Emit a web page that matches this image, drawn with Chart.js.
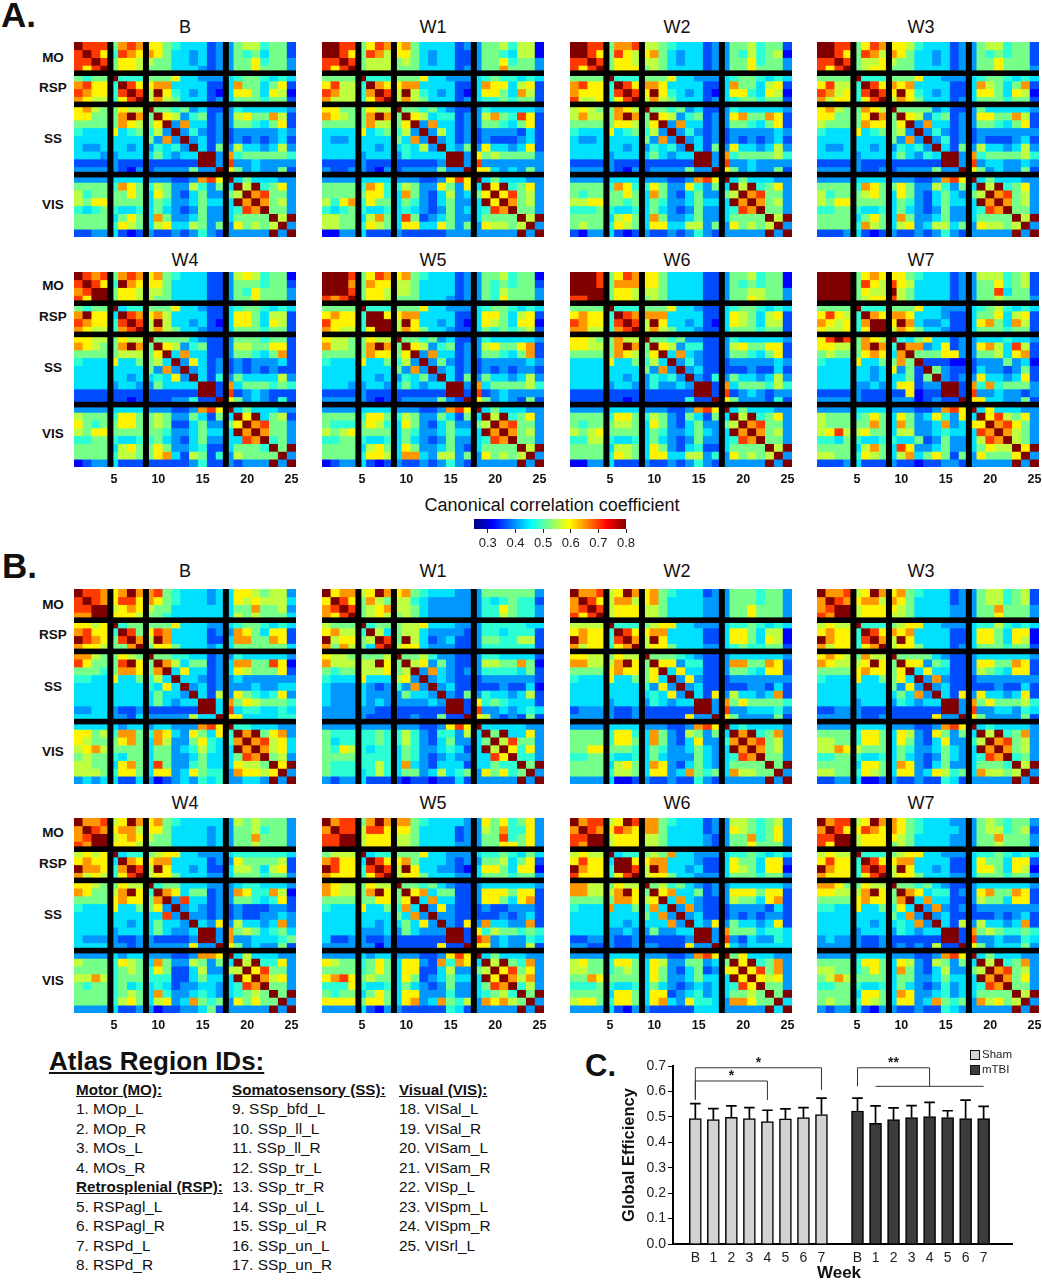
<!DOCTYPE html>
<html>
<head>
<meta charset="utf-8">
<script src="https://cdn.jsdelivr.net/npm/chart.js@4"></script>
<style>
body { margin: 0; background: #fff; }
#page { position: relative; width: 1042px; height: 1280px; overflow: hidden; font-family: "Liberation Sans", Arial, sans-serif; color: #111; }
#page canvas { position: absolute; }
.t { position: absolute; white-space: nowrap; line-height: 1; }
.c { transform: translate(-50%, -50%); }
</style>
</head>
<body>
<div id="page"></div>
<script>
var levelSymbols = '0123456789x';
var levelValues = [0.32, 0.36, 0.40, 0.44, 0.48, 0.52, 0.56, 0.60, 0.65, 0.70, 0.80];

// upper triangle of each matrix, row by row, blocks are MO RSP SS VIS
var A_B = ["x999 5898 775433312 25664551","x97 4987 875332312 25453551","x9 5776 655332312 25574552","x 5776 555333212 25575552","x444 555733222 34554343","x97 788333311 38553571","x9 6x7432310 37753760","x 686533312 35554551","x55452311 24333332","x7624512 26755861","x283312 25543571","x24212 12222232","x2312 12121231","x315 26332362","xx2 84555554","x2 92232222","x 75232251","x3533322","x6x4572","x89552","x8562","x552","x6x","x2","x"];
var A_W1 = ["xx99 5798 785333312 25564660","x97 5986 775323311 25543660","x9 5666 565323311 25574552","x 5666 555333312 25585552","x444 555733222 34544343","x87 788333311 38773671","x9 6x6432310 37753861","x 686533312 34454551","x55453211 24333332","x7634412 26854971","x283312 25543571","x26312 12222131","x2312 12111231","x325 27332371","xx2 75655552","x2 92222222","x 77323252","x3533322","x7x4572","x79562","x8562","x552","x6x","x2","x"];
var A_W2 = ["xx99 5889 665433312 25564551","x97 5976 785323312 25464560","x9 5776 665323312 25574552","x 5777 565333312 25575552","x444 555733222 34554343","x97 887333311 38553671","x9 7x7432310 37743760","x 686533312 34554551","x55452311 24333332","x7624512 27855871","x283312 25543571","x24212 12222232","x2312 12121231","x315 27332362","xx2 84555564","x2 92232222","x 75232251","x3533322","x6x4572","x89552","x8562","x552","x6x","x2","x"];
var A_W3 = ["xx99 5798 776433312 25664551","x97 5986 875332312 25454551","x9 5667 655332312 25575551","x 5677 555333312 25575552","x444 555733222 34554343","x97 878333311 38653581","x9 7x7432311 37753760","x 687533312 35554551","x55552311 25333332","x7624512 27755861","x283312 25543571","x24212 12222222","x2412 12111231","x315 26332362","xx2 84555564","x2 92332232","x 75232251","x3533322","x6x4572","x89562","x8562","x552","x6x","x2","x"];
var A_W4 = ["x989 5898 785433311 26764550","x97 4x87 775333311 25554551","xx 5776 665333311 25475552","x 5776 655333311 25575552","x344 555733211 34554343","x98 786333311 37753661","x9 6x6332310 37753761","x 686533211 35554551","x55553211 25554551","x7624511 26655771","x383311 25543581","x27312 12122231","x2312 12121211","x314 25333362","xx1 83555454","x1 91232111","x 75232141","x3533322","x7x3561","x89552","x8552","x452","x5x","x2","x"];
var A_W5 = ["xxx9 5798 785433312 25564550","xx8 5877 665333312 25454551","x9 5776 665333312 25465552","x 5776 555333212 25475552","x444 555733222 34554343","xx7 788333311 37753671","xx 6x7332310 37653770","x 687533211 35454561","x55452311 24333332","x7624512 26755781","x283312 25543581","x25212 12222232","x2312 12121221","x315 25332362","xx2 83555564","x1 91232222","x 75232151","x3533322","x6x4572","x89552","x8562","x552","x6x","x2","x"];
var A_W6 = ["xxx9 5798 775333311 25564550","xx9 5888 775333311 25454550","xx 5776 665333311 25566552","x 5776 565333311 25576552","x444 555733211 34554343","x98 888333311 37653671","x9 6x7332310 37653661","x 686533211 35554551","x55452211 24333332","x7624411 26755771","x383211 25543571","x24211 12222232","x2311 11121131","x214 25332362","xx1 83555464","x1 91232122","x 75222141","x3533322","x6x4572","x89552","x8562","x552","x6x","x2","x"];
var A_W7 = ["xxxx 5787 775433312 26664561","xxx 5976 976333312 25574561","xx 5766 x65333312 25593551","x 5677 965333312 25565552","x444 555733222 34564343","x87 887333211 35573671","xx 7x8322311 37853861","x 687533211 35554551","x43573312 23334332","x8823712 27863961","x555772 25563781","x11100 12225230","x5211 13221251","x212 27332371","xx1 84845552","x1 92232212","x 77332251","x3733322","x796572","x89752","x8652","x652","x7x","x2","x"];
var B_B = ["x998 78x8 895433323 37765662","x98 7997 875433323 37676663","xx 6787 655333333 35585562","x 7776 554333333 36565553","x455 555733322 34554343","x95 798333312 28753771","x8 6x8333311 38855871","x 577533323 35555553","x55443312 24333332","x8635512 38855970","x373312 37655571","x33212 23222222","x2312 22232233","x316 27543472","xx3 85765554","x3 93443343","x 77333344","x4433322","x8x5782","x89673","x8673","x562","x7x","x2","x"];
var B_W1 = ["x788 67x8 785433322 25555552","x97 5865 664322222 24345441","x9 5678 665322222 24475442","x 5676 565322222 24465442","x455 566733322 24444433","x63 566322221 24434441","x9 5x6312311 25544661","x 677322211 24444441","x55642211 24433331","x6725211 26655850","x283212 24444351","x23211 12222221","x2311 11121130","x215 24332361","xx1 74543331","x1 92232343","x 76212151","x3333322","x5x3372","x69552","x7472","x442","x5x","x2","x"];
var B_W2 = ["x889 67x8 785433312 25554552","x97 6886 785333322 25554552","x9 6777 665333322 25575552","x 6777 665333322 25575552","x444 567733222 34454343","x97 788333311 37753660","x8 6x7333311 37753760","x 677533322 34544551","x55543211 23333332","x7724411 28855871","x373311 25543771","x27211 12222222","x2311 11122131","x317 26332381","xx2 85755554","x2 92233342","x 75222251","x3433332","x8x4582","x89562","x8562","x552","x5x","x2","x"];
var B_W3 = ["x889 67x8 785433312 25664561","x98 7886 875333312 25664561","xx 6777 765333322 25585552","x 6777 665333322 25575552","x444 567733222 34464343","x97 878333311 37753770","x8 6x7333311 37753760","x 677533312 35554551","x55553211 23333332","x7725411 27755871","x373311 26543771","x28211 12222222","x2311 11121131","x317 27332371","xx2 85755564","x2 92233243","x 75222251","x3433332","x6x4582","x89562","x8562","x452","x6x","x2","x"];
var B_W4 = ["x889 67x8 785433333 26565552","x98 7886 775333323 25564552","xx 6787 655333323 25585552","x 7776 555333323 25565552","x344 567733222 34444443","x87 788333312 27555561","x9 6x7332311 36653671","x 677533322 35554552","x45533322 23443332","x8735512 28744860","x293312 25543471","x23212 12111221","x2212 12112232","x327 26332382","xx2 85653453","x2 82233345","x 75232251","x3633322","x6x4472","x79552","x8672","x552","x5x","x2","x"];
var B_W5 = ["x899 58x8 885433332 27574572","x99 6997 775333312 26584472","xx 6777 665333312 25594572","x 6777 665333322 25577572","x344 555733222 34454353","x97 785333212 25563571","x9 6x7332210 37753770","x 677533322 35554552","x55453211 23333332","x7835511 27775771","x383311 27753781","x27211 12112221","x2211 11121231","x217 28332281","xx1 74655454","x1 98232243","x 77232261","x3533322","x6x5482","x79572","x8682","x462","x5x","x2","x"];
var B_W6 = ["x899 67x9 885433312 26654562","x98 7987 885333312 27654572","xx 6777 665333321 25584572","x 6777 665333321 25575552","x344 565833222 34454343","xx7 788333211 37553771","x9 6x8332311 37653770","x 677533222 35554552","x56453212 23333332","x7833512 27775771","x383211 26553781","x28211 12222131","x2311 12121221","x327 25332371","xx2 85553443","x2 92132243","x 73233333","x5733322","x7x4582","x79582","x7672","x552","x5x","x3","x"];
var B_W7 = ["x899 67x8 875433322 25654552","x97 7987 875433332 25664561","xx 6777 765333322 25585552","x 6777 565333322 25565552","x444 567733222 34454343","x97 788333311 37553771","x9 6x7332311 37753760","x 677533322 35554552","x55453211 23333332","x8734412 27855871","x383311 26553771","x28212 12222222","x2311 11121231","x316 26332381","xx1 85654454","x1 92232243","x 75233352","x3533322","x6x4582","x89562","x8572","x552","x6x","x2","x"];

var regionLabels = ['MO', 'RSP', 'SS', 'VIS'];
var regionEnds = [4, 8, 17];
var regionIds = [];
for (var n = 1; n <= 25; n++) regionIds.push(String(n));

var weeks = ['B', '1', '2', '3', '4', '5', '6', '7'];
var shamEfficiency = [0.493, 0.489, 0.498, 0.493, 0.481, 0.492, 0.497, 0.509];
var shamError = [0.059, 0.043, 0.045, 0.043, 0.045, 0.039, 0.039, 0.065];
var mtbiEfficiency = [0.523, 0.475, 0.489, 0.497, 0.501, 0.497, 0.493, 0.493];
var mtbiError = [0.051, 0.068, 0.046, 0.047, 0.056, 0.027, 0.073, 0.048];
var efficiencyTicks = [0, 0.1, 0.2, 0.3, 0.4, 0.5, 0.6, 0.7];
var colorbarTicks = [0.3, 0.4, 0.5, 0.6, 0.7, 0.8];

var motorList = ['1. MOp_L', '2. MOp_R', '3. MOs_L', '4. MOs_R'];
var rspList = ['5. RSPagl_L', '6. RSPagl_R', '7. RSPd_L', '8. RSPd_R'];
var ssList = ['9. SSp_bfd_L', '10. SSp_ll_L', '11. SSp_ll_R', '12. SSp_tr_L', '13. SSp_tr_R', '14. SSp_ul_L', '15. SSp_ul_R', '16. SSp_un_L', '17. SSp_un_R'];
var visList = ['18. VISal_L', '19. VISal_R', '20. VISam_L', '21. VISam_R', '22. VISp_L', '23. VISpm_L', '24. VISpm_R', '25. VISrl_L'];

var page = document.getElementById('page');
Chart.defaults.font.family = '"Liberation Sans", Arial, sans-serif';
Chart.defaults.animation = false;
Chart.defaults.responsive = false;
Chart.defaults.devicePixelRatio = 1;
Chart.defaults.events = [];
Chart.defaults.plugins.legend.display = false;
Chart.defaults.plugins.tooltip.enabled = false;

function text(str, x, y, size, opts) {
    opts = opts || {};
    var d = document.createElement('div');
    d.className = 't' + (opts.center ? ' c' : '');
    d.textContent = str;
    d.style.left = x + 'px';
    d.style.top = y + 'px';
    d.style.fontSize = size + 'px';
    if (opts.bold) d.style.fontWeight = 'bold';
    if (opts.underline) d.style.textDecoration = 'underline';
    if (opts.color) d.style.color = opts.color;
    page.appendChild(d);
}

function addCanvas(x, y, w, h) {
    var c = document.createElement('canvas');
    c.width = w;
    c.height = h;
    c.style.left = x + 'px';
    c.style.top = y + 'px';
    page.appendChild(c);
    return c;
}

function jet(v) {
    var t = (v - 0.25) / 0.55;
    function ch(a) { return Math.round(255 * Math.max(0, Math.min(1, a))); }
    return 'rgb(' + ch(Math.min(4 * t - 1.5, 4.5 - 4 * t)) + ',' + ch(Math.min(4 * t - 0.5, 3.5 - 4 * t)) + ',' + ch(Math.min(4 * t + 0.5, 2.5 - 4 * t)) + ')';
}

// the upper triangle is mirrored to a full 25 x 25 table of values
function fullMatrix(rows) {
    var m = [];
    for (var i = 0; i < 25; i++) m.push([]);
    rows.forEach(function(row, i) {
        var s = row.replace(/ /g, '');
        for (var k = 0; k + i < 25; k++) {
            var v = levelValues[levelSymbols.indexOf(s.charAt(k) || '3')];
            m[i][i + k] = v;
            m[i + k][i] = v;
        }
    });
    return m;
}

var separators = {
    id: 'separators',
    afterDatasetsDraw: function(chart) {
        var ctx = chart.ctx, a = chart.chartArea, xs = chart.scales.x, ys = chart.scales.y;
        ctx.save();
        ctx.fillStyle = '#000';
        regionEnds.forEach(function(end) {
            var px = xs.getPixelForValue(end - 0.5 + 0.1);
            var py = ys.getPixelForValue(end);
            ctx.fillRect(px - 3, a.top, 6, a.bottom - a.top);
            ctx.fillRect(a.left, py - 2.8, a.right - a.left, 5.6);
        });
        ctx.restore();
    }
};

function heatmap(rows, x, y, showTicks) {
    var m = fullMatrix(rows);
    var datasets = m.map(function(row) {
        return {
            data: row.map(function() { return 1; }),
            backgroundColor: row.map(jet),
            borderWidth: 0,
            barPercentage: 1,
            categoryPercentage: 1
        };
    });
    // the canvas is 10px wider than the plot so the label 25 is not cut
    new Chart(addCanvas(x, y, 232, showTicks ? 217 : 195), {
        type: 'bar',
        data: { labels: regionIds, datasets: datasets },
        options: {
            layout: { padding: { right: 10 } },
            scales: {
                x: {
                    stacked: true,
                    display: showTicks,
                    grid: { display: false, drawTicks: false },
                    border: { display: false },
                    afterFit: function(s) {
                        s.height = showTicks ? 22 : 0;
                        s.paddingLeft = 0;
                        s.paddingRight = 0;
                    },
                    ticks: {
                        autoSkip: false,
                        maxRotation: 0,
                        padding: 5,
                        color: '#111',
                        font: { size: 12.5, weight: 'bold' },
                        callback: function(v, i) { return (i + 1) % 5 === 0 ? regionIds[i] : ''; }
                    }
                },
                y: { stacked: true, display: false, reverse: true, min: 0, max: 25 }
            }
        },
        plugins: [separators]
    });
}

var colLefts = [74, 322, 570, 817];
var titleX = [185, 433, 677, 921];

function panelRow(names, tables, top, titleY, showTicks, labelOffsets) {
    names.forEach(function(name, i) {
        text(name, titleX[i], titleY, 18, { center: true });
        heatmap(tables[i], colLefts[i], top, showTicks);
    });
    regionLabels.forEach(function(lab, i) {
        text(lab, 53, top + labelOffsets[i], 13.5, { center: true, bold: true });
    });
}

panelRow(['B', 'W1', 'W2', 'W3'], [A_B, A_W1, A_W2, A_W3], 42, 27, false, [16, 46, 97, 163]);
panelRow(['W4', 'W5', 'W6', 'W7'], [A_W4, A_W5, A_W6, A_W7], 272, 260, true, [14, 45, 96, 162]);
panelRow(['B', 'W1', 'W2', 'W3'], [B_B, B_W1, B_W2, B_W3], 589, 571, false, [16, 46, 98, 163]);
panelRow(['W4', 'W5', 'W6', 'W7'], [B_W4, B_W5, B_W6, B_W7], 818, 803, true, [15, 46, 97, 163]);

text('A.', 1, -3, 35, { bold: true });
text('B.', 2, 548, 35, { bold: true });
text('C.', 585, 1050, 31, { bold: true });

// colour bar
text('Canonical correlation coefficient', 552, 505, 18, { center: true });
new Chart(addCanvas(459, 519, 182, 36), {
    type: 'bar',
    data: {
        labels: ['r'],
        datasets: [{
            data: [[0.25, 0.8]],
            barPercentage: 1,
            categoryPercentage: 1,
            borderWidth: 0,
            backgroundColor: function(c) {
                var a = c.chart.chartArea;
                if (!a) return '#888';
                var g = c.chart.ctx.createLinearGradient(a.left, 0, a.right, 0);
                for (var i = 0; i <= 40; i++) g.addColorStop(i / 40, jet(0.25 + 0.55 * i / 40));
                return g;
            }
        }]
    },
    options: {
        indexAxis: 'y',
        layout: { padding: { left: 15, right: 15 } },
        scales: {
            y: { display: false },
            x: {
                min: 0.25,
                max: 0.8,
                afterBuildTicks: function(s) { s.ticks = colorbarTicks.map(function(v) { return { value: v }; }); },
                afterFit: function(s) { s.height = 26; },
                grid: { drawOnChartArea: false, tickLength: 4, color: '#222' },
                border: { display: false },
                ticks: { autoSkip: false, maxRotation: 0, padding: 3, color: '#222', font: { size: 13 }, callback: function(v) { return v.toFixed(1); } }
            }
        }
    }
});

// atlas list
text('Atlas Region IDs:', 49, 1048, 26, { bold: true, underline: true });
function listColumn(x, start, items) {
    items.forEach(function(it, i) {
        text(it.t, x, start + i * 19.5, it.h ? 15.2 : 15.4, it.h ? { bold: true, underline: true } : {});
    });
}
function asItems(arr) { return arr.map(function(s) { return { t: s }; }); }
listColumn(76, 1081.5, [{ t: 'Motor (MO):', h: 1 }].concat(asItems(motorList), [{ t: 'Retrosplenial (RSP):', h: 1 }], asItems(rspList)));
listColumn(232, 1081.5, [{ t: 'Somatosensory (SS):', h: 1 }].concat(asItems(ssList)));
listColumn(399, 1081.5, [{ t: 'Visual (VIS):', h: 1 }].concat(asItems(visList)));

// panel C
var mtbiShift = 9;
var brackets = [
    { from: 0, to: 7, level: 0.693, left: 0.569, right: 0.606, stars: '*' },
    { from: 0, to: 4, level: 0.641, left: 0.566, right: 0.566, stars: '*' },
    { from: 9, to: 13, level: 0.693, left: 0.62, right: 0.62, stars: '**' }
];

var decorations = {
    id: 'decorations',
    afterDatasetsDraw: function(chart) {
        var ctx = chart.ctx, xs = chart.scales.x, ys = chart.scales.y;
        ctx.save();
        chart.data.datasets.forEach(function(ds) {
            ctx.strokeStyle = '#000';
            ctx.lineWidth = 1.7;
            ds.data.forEach(function(p, i) {
                var x = xs.getPixelForValue(p.x), y0 = ys.getPixelForValue(p.y), y1 = ys.getPixelForValue(p.y + ds.errors[i]);
                ctx.beginPath();
                ctx.moveTo(x, y0);
                ctx.lineTo(x, y1);
                ctx.moveTo(x - 5.3, y1);
                ctx.lineTo(x + 5.3, y1);
                ctx.stroke();
            });
        });
        ctx.strokeStyle = '#333';
        ctx.fillStyle = '#222';
        ctx.lineWidth = 1;
        ctx.textAlign = 'center';
        ctx.font = 'bold 14px "Liberation Sans"';
        brackets.forEach(function(b) {
            var xa = xs.getPixelForValue(b.from), xb = xs.getPixelForValue(b.to), yl = ys.getPixelForValue(b.level);
            ctx.beginPath();
            ctx.moveTo(xa, ys.getPixelForValue(b.left));
            ctx.lineTo(xa, yl);
            ctx.lineTo(xb, yl);
            ctx.lineTo(xb, ys.getPixelForValue(b.right));
            ctx.stroke();
            ctx.fillText(b.stars, (xa + xb) / 2, yl - 1);
        });
        // line under the mTBI bracket, week 1 to week 7
        var yu = ys.getPixelForValue(0.62);
        ctx.beginPath();
        ctx.moveTo(xs.getPixelForValue(mtbiShift + 1), yu);
        ctx.lineTo(xs.getPixelForValue(mtbiShift + 7), yu);
        ctx.stroke();
        ctx.restore();
    }
};

new Chart(addCanvas(620, 1045, 393, 235), {
    type: 'bar',
    data: {
        datasets: [
            {
                label: 'Sham',
                data: shamEfficiency.map(function(v, i) { return { x: i, y: v }; }),
                errors: shamError,
                backgroundColor: '#d2d2d2',
                borderColor: '#000',
                borderWidth: 1.5,
                barThickness: 12,
                grouped: false
            },
            {
                label: 'mTBI',
                data: mtbiEfficiency.map(function(v, i) { return { x: i + mtbiShift, y: v }; }),
                errors: mtbiError,
                backgroundColor: '#3c3c3c',
                borderColor: '#000',
                borderWidth: 1.5,
                barThickness: 12,
                grouped: false
            }
        ]
    },
    options: {
        layout: { padding: { top: 21 } },
        scales: {
            x: {
                type: 'linear',
                offset: false,
                min: -1.24,
                max: 17.63,
                grid: { display: false, offset: false, tickLength: 4 },
                border: { color: '#000', width: 2 },
                afterBuildTicks: function(s) {
                    var t = [];
                    weeks.forEach(function(w, i) { t.push({ value: i }); t.push({ value: i + mtbiShift }); });
                    s.ticks = t.sort(function(a, b) { return a.value - b.value; });
                },
                afterFit: function(s) { s.height = 36; },
                ticks: {
                    autoSkip: false,
                    maxRotation: 0,
                    padding: 2,
                    color: '#222',
                    font: { size: 14 },
                    callback: function(v) { return weeks[v < mtbiShift ? v : v - mtbiShift]; }
                }
            },
            y: {
                min: 0,
                max: 0.7,
                grid: { drawOnChartArea: false, tickLength: 5, color: '#000' },
                border: { color: '#000', width: 2 },
                afterBuildTicks: function(s) { s.ticks = efficiencyTicks.map(function(v) { return { value: v }; }); },
                afterFit: function(s) { s.width = 53; },
                title: { display: true, text: 'Global Efficiency', color: '#111', padding: 0, font: { size: 16.5, weight: 'bold' } },
                ticks: { padding: 2, color: '#222', font: { size: 14 }, callback: function(v) { return v.toFixed(1); } }
            }
        }
    },
    plugins: [decorations]
});
text('Week', 839, 1272, 17, { center: true, bold: true });

// legend of panel C
function legendEntry(name, color, y) {
    var s = document.createElement('div');
    s.style.cssText = 'position:absolute;left:970px;top:' + y + 'px;width:8px;height:8px;border:1.5px solid #111;background:' + color;
    page.appendChild(s);
    text(name, 982, y - 1, 11.5, { color: '#222' });
}
legendEntry('Sham', '#d2d2d2', 1050);
legendEntry('mTBI', '#3c3c3c', 1065);
</script>
</body>
</html>
